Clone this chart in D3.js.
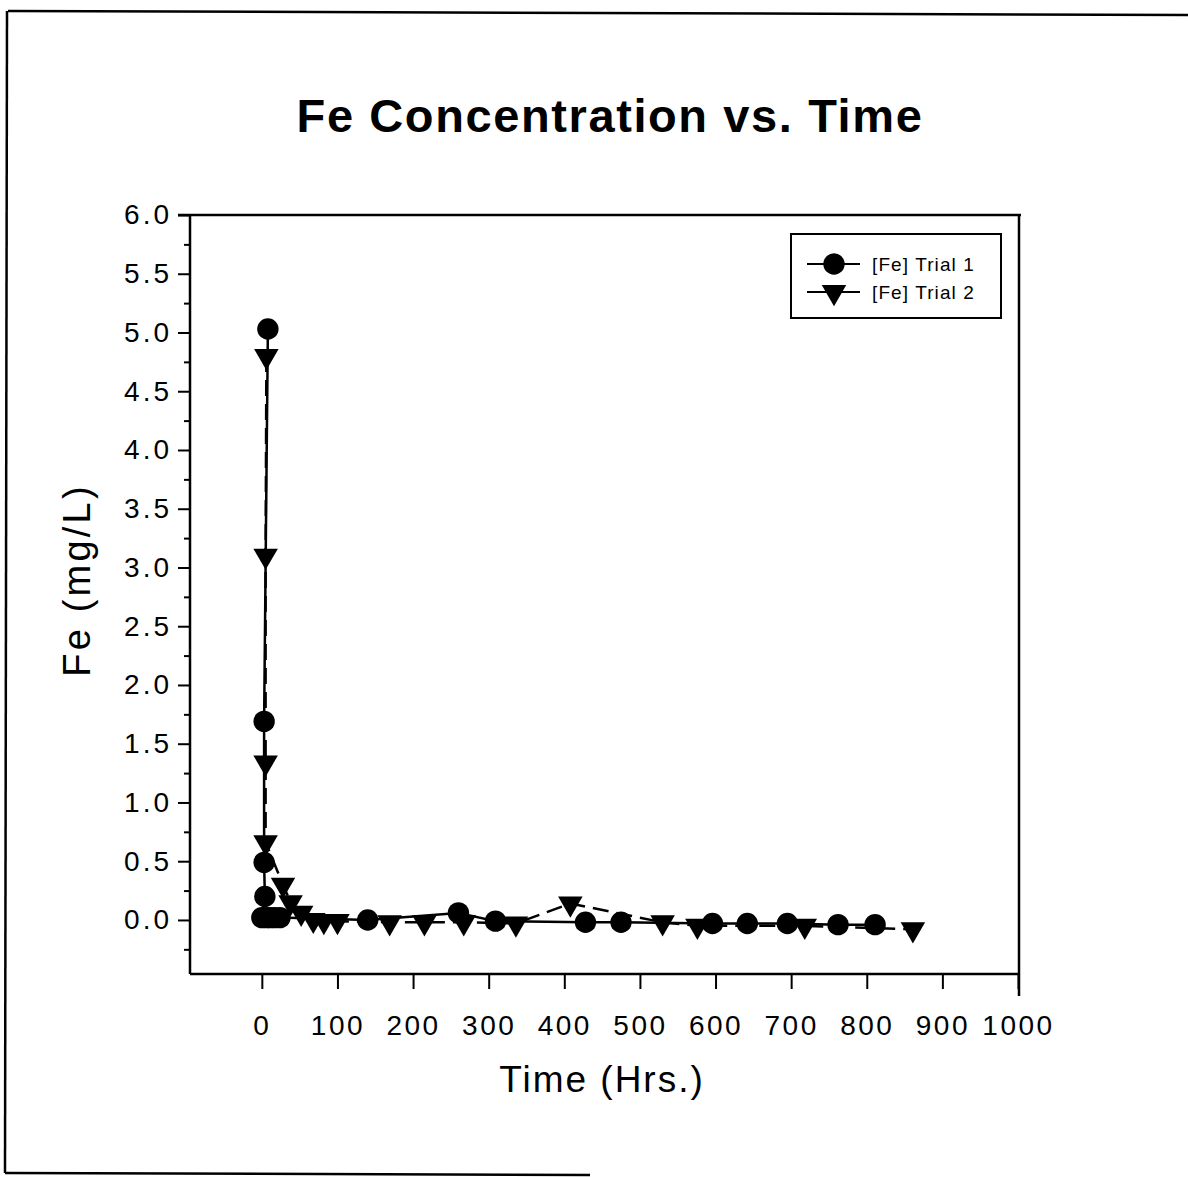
<!DOCTYPE html>
<html>
<head>
<meta charset="utf-8">
<script src="https://cdn.jsdelivr.net/npm/d3@7"></script>
<style>
  html, body { margin: 0; padding: 0; background: #fff; }
  svg { display: block; font-family: "Liberation Sans", Arial, Helvetica, sans-serif; }
</style>
</head>
<body>
<svg id="chart" width="1188" height="1177"></svg>
<script>
// ---- data ----
const title = "Fe Concentration vs. Time";
const xLabel = "Time (Hrs.)";
const yLabel = "Fe (mg/L)";
const seriesNames = ["[Fe] Trial 1", "[Fe] Trial 2"];

const trial1Time = [8, 3, 3, 4, 0, 6, 11, 17, 24, 140, 260, 309, 428, 475, 596, 642, 695, 762, 811];
const trial1Fe   = [5.03, 1.69, 0.49, 0.20, 0.02, 0.02, 0.02, 0.02, 0.02, 0.00, 0.06, -0.01, -0.02, -0.02, -0.03, -0.03, -0.03, -0.04, -0.04];

const trial2Time = [6, 5, 5, 5, 28, 38, 52, 68, 82, 100, 169, 215, 267, 336, 408, 530, 576, 718, 861];
const trial2Fe   = [4.80, 3.10, 1.34, 0.66, 0.30, 0.15, 0.06, 0.00, -0.01, -0.01, -0.02, -0.02, -0.02, -0.03, 0.14, -0.02, -0.05, -0.05, -0.08];

const xTicks = [0, 100, 200, 300, 400, 500, 600, 700, 800, 900, 1000];
const yMajorTicks = [0.0, 0.5, 1.0, 1.5, 2.0, 2.5, 3.0, 3.5, 4.0, 4.5, 5.0, 5.5, 6.0];
const yMinorTicks = [-0.25, 0.25, 0.75, 1.25, 1.75, 2.25, 2.75, 3.25, 3.75, 4.25, 4.75, 5.25, 5.75];

// ---- layout ----
const svg = d3.select("#chart");
const pL = 190, pR = 1019, pT = 215, pB = 974;

const x = d3.scaleLinear().domain([-95, 1000]).range([pL, 1018]);
const y = d3.scaleLinear().domain([-0.46, 6.0]).range([pB, pT]);

// page border lines (scan frame)
svg.append("line").attr("x1", 8).attr("y1", 11).attr("x2", 1188).attr("y2", 15)
  .attr("stroke", "#000").attr("stroke-width", 2.5);
svg.append("line").attr("x1", 7).attr("y1", 11).attr("x2", 5).attr("y2", 1173)
  .attr("stroke", "#000").attr("stroke-width", 2.5);
svg.append("line").attr("x1", 5).attr("y1", 1173).attr("x2", 590).attr("y2", 1175)
  .attr("stroke", "#000").attr("stroke-width", 2.5);

// title
svg.append("text").attr("x", 610).attr("y", 132)
  .attr("text-anchor", "middle").attr("font-weight", "bold")
  .attr("font-size", 47).attr("letter-spacing", 1.6)
  .text(title);

// frame top & right
svg.append("line").attr("x1", pL - 12).attr("y1", pT).attr("x2", pR + 2).attr("y2", pT)
  .attr("stroke", "#000").attr("stroke-width", 2.5);
svg.append("line").attr("x1", pR).attr("y1", pT).attr("x2", pR).attr("y2", pB + 22)
  .attr("stroke", "#000").attr("stroke-width", 2.5);

// y axis
const yAxisG = svg.append("g").attr("transform", `translate(${pL},0)`);
yAxisG.call(d3.axisLeft(y).tickValues(yMajorTicks).tickSize(12).tickPadding(6).tickFormat(d3.format(".1f")));
yAxisG.append("g").call(d3.axisLeft(y).tickValues(yMinorTicks).tickSize(6).tickFormat(""));
yAxisG.selectAll(".domain").remove();
yAxisG.append("line").attr("x1", 0).attr("x2", 0).attr("y1", pT).attr("y2", pB)
  .attr("stroke", "#000").attr("stroke-width", 2.5);
yAxisG.selectAll(".tick line").attr("stroke", "#000").attr("stroke-width", 2);
yAxisG.selectAll(".tick text").attr("font-size", 28).attr("letter-spacing", 3)
  .attr("fill", "#000").attr("font-family", "'Liberation Sans', Arial, sans-serif");

// x axis
const xAxisG = svg.append("g").attr("transform", `translate(0,${pB})`);
xAxisG.call(d3.axisBottom(x).tickValues(xTicks).tickSize(15).tickPadding(26).tickFormat(d3.format("d")));
xAxisG.selectAll(".domain").remove();
xAxisG.append("line").attr("x1", pL).attr("x2", pR).attr("y1", 0).attr("y2", 0)
  .attr("stroke", "#000").attr("stroke-width", 2.5);
xAxisG.selectAll(".tick line").attr("stroke", "#000").attr("stroke-width", 2);
xAxisG.selectAll(".tick text").attr("font-size", 28).attr("letter-spacing", 2.5)
  .attr("fill", "#000").attr("font-family", "'Liberation Sans', Arial, sans-serif");

// axis labels
svg.append("text").attr("x", 602).attr("y", 1092)
  .attr("text-anchor", "middle").attr("font-size", 37).attr("letter-spacing", 2)
  .text(xLabel);
svg.append("text").attr("transform", "translate(90,580) rotate(-90)")
  .attr("text-anchor", "middle").attr("font-size", 38).attr("letter-spacing", 3.2)
  .text(yLabel);

// series
const s1 = trial1Time.map((t, i) => [t, trial1Fe[i]]);
const s2 = trial2Time.map((t, i) => [t, trial2Fe[i]]);
const line = d3.line().x(d => x(d[0])).y(d => y(d[1]));

svg.append("path").attr("d", line(s1)).attr("fill", "none")
  .attr("stroke", "#000").attr("stroke-width", 2.5);
svg.append("path").attr("d", line(s2)).attr("fill", "none")
  .attr("stroke", "#000").attr("stroke-width", 2.5).attr("stroke-dasharray", "16,8");

const circleSym = d3.symbol().type(d3.symbolCircle).size(360);
const triSym = d3.symbol().type(d3.symbolTriangle).size(260);

svg.append("g").selectAll("path").data(s1).join("path")
  .attr("d", circleSym)
  .attr("transform", d => `translate(${x(d[0])},${y(d[1])})`)
  .attr("fill", "#000");
svg.append("g").selectAll("path").data(s2).join("path")
  .attr("d", triSym)
  .attr("transform", d => `translate(${x(d[0])},${y(d[1])}) rotate(180)`)
  .attr("fill", "#000");

// legend
const lg = svg.append("g");
lg.append("rect").attr("x", 791).attr("y", 234).attr("width", 210).attr("height", 84)
  .attr("fill", "#fff").attr("stroke", "#000").attr("stroke-width", 2);
const legendRows = [
  { name: seriesNames[0], sym: circleSym, rot: 0, cy: 264 },
  { name: seriesNames[1], sym: triSym, rot: 180, cy: 292 }
];
legendRows.forEach(r => {
  lg.append("line").attr("x1", 807).attr("x2", 860).attr("y1", r.cy).attr("y2", r.cy)
    .attr("stroke", "#000").attr("stroke-width", 2);
  lg.append("path").attr("d", r.sym)
    .attr("transform", `translate(834,${r.cy}) rotate(${r.rot})`).attr("fill", "#000");
  lg.append("text").attr("x", 872).attr("y", r.cy + 7).attr("font-size", 19)
    .attr("letter-spacing", 1.1).text(r.name);
});
</script>
</body>
</html>
